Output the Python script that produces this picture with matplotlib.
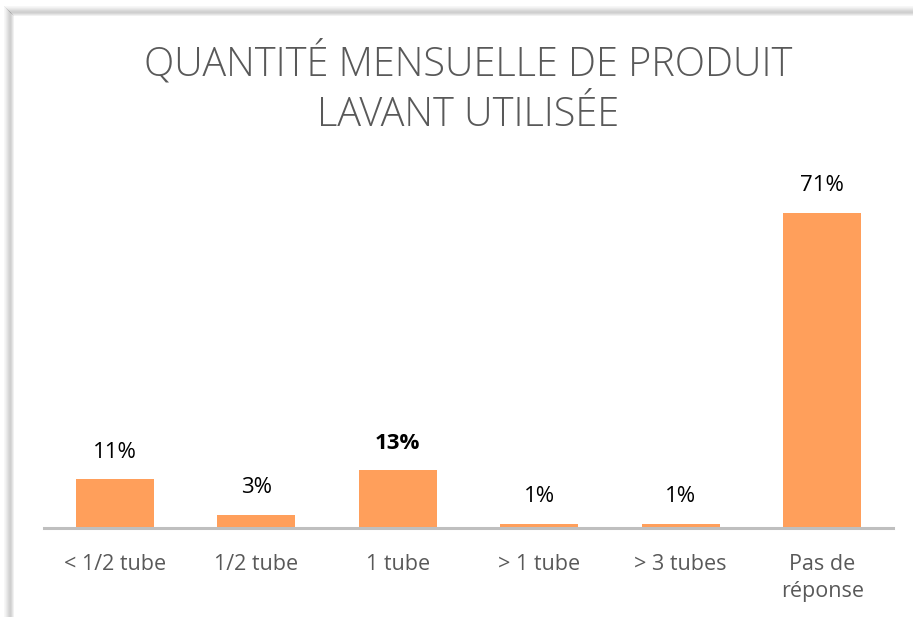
import matplotlib.pyplot as plt
from matplotlib.patches import Rectangle

# Data
categories = ["< 1/2 tube", "1/2 tube", "1 tube", "> 1 tube", "> 3 tubes", "Pas de\nréponse"]
values = [11, 3, 13, 1, 1, 71]
labels = ["11%", "3%", "13%", "1%", "1%", "71%"]
bold_labels = [False, False, True, False, False, False]

W, H = 913, 617
fig = plt.figure(figsize=(W / 100, H / 100), dpi=100)
fig.patch.set_facecolor("white")

# soft shadow frame on the top and left edges
for i, a in enumerate([0.03, 0.05, 0.08, 0.11, 0.14, 0.17, 0.18, 0.15, 0.10, 0.05]):
    x0 = (4 + i) / W
    y0 = 1 - (6 + i) / H
    fig.add_artist(plt.Line2D([x0, x0], [0, y0], transform=fig.transFigure,
                              color="black", alpha=a, lw=0.75, zorder=-3))
    fig.add_artist(plt.Line2D([x0, 1], [y0, y0], transform=fig.transFigure,
                              color="black", alpha=a, lw=0.75, zorder=-3))
fig.add_artist(Rectangle((14 / W, 0), 1, 1 - 16 / H, transform=fig.transFigure,
                         facecolor="white", edgecolor="none", zorder=-2))

ax = fig.add_axes([44 / W, 1 - 528 / H, 849 / W, 355 / H])
ax.patch.set_alpha(0)
x = range(len(categories))
ax.bar(x, values, width=0.55, color="#FF9F5B", zorder=2)
ax.set_xlim(-0.5, len(categories) - 0.5)
ax.set_ylim(0, 80)

for s in ["top", "right", "left"]:
    ax.spines[s].set_visible(False)
ax.spines["bottom"].set_color("#BFBFBF")
ax.spines["bottom"].set_linewidth(2.2)
ax.set_yticks([])
ax.set_xticks(list(x))
ax.set_xticklabels(categories, fontsize=15.5, color="#595959", family="Open Sans",
                   linespacing=1.4)
ax.tick_params(axis="x", length=0, pad=18.5)

for xi, v, lab, b in zip(x, values, labels, bold_labels):
    ax.annotate(lab, (xi, v), xytext=(0, 19.5), textcoords="offset points",
                ha="center", va="center", fontsize=16, color="black",
                family="Open Sans", fontweight="bold" if b else "normal")

fig.text(468 / W, 1 - 63 / H, "QUANTITÉ MENSUELLE DE PRODUIT", ha="center",
         va="center", fontsize=28.5, color="#595959", family="Open Sans", fontweight="light")
fig.text(468 / W, 1 - 115 / H, "LAVANT UTILISÉE", ha="center",
         va="center", fontsize=28.5, color="#595959", family="Open Sans", fontweight="light")

fig.savefig("out.png", dpi=100)
